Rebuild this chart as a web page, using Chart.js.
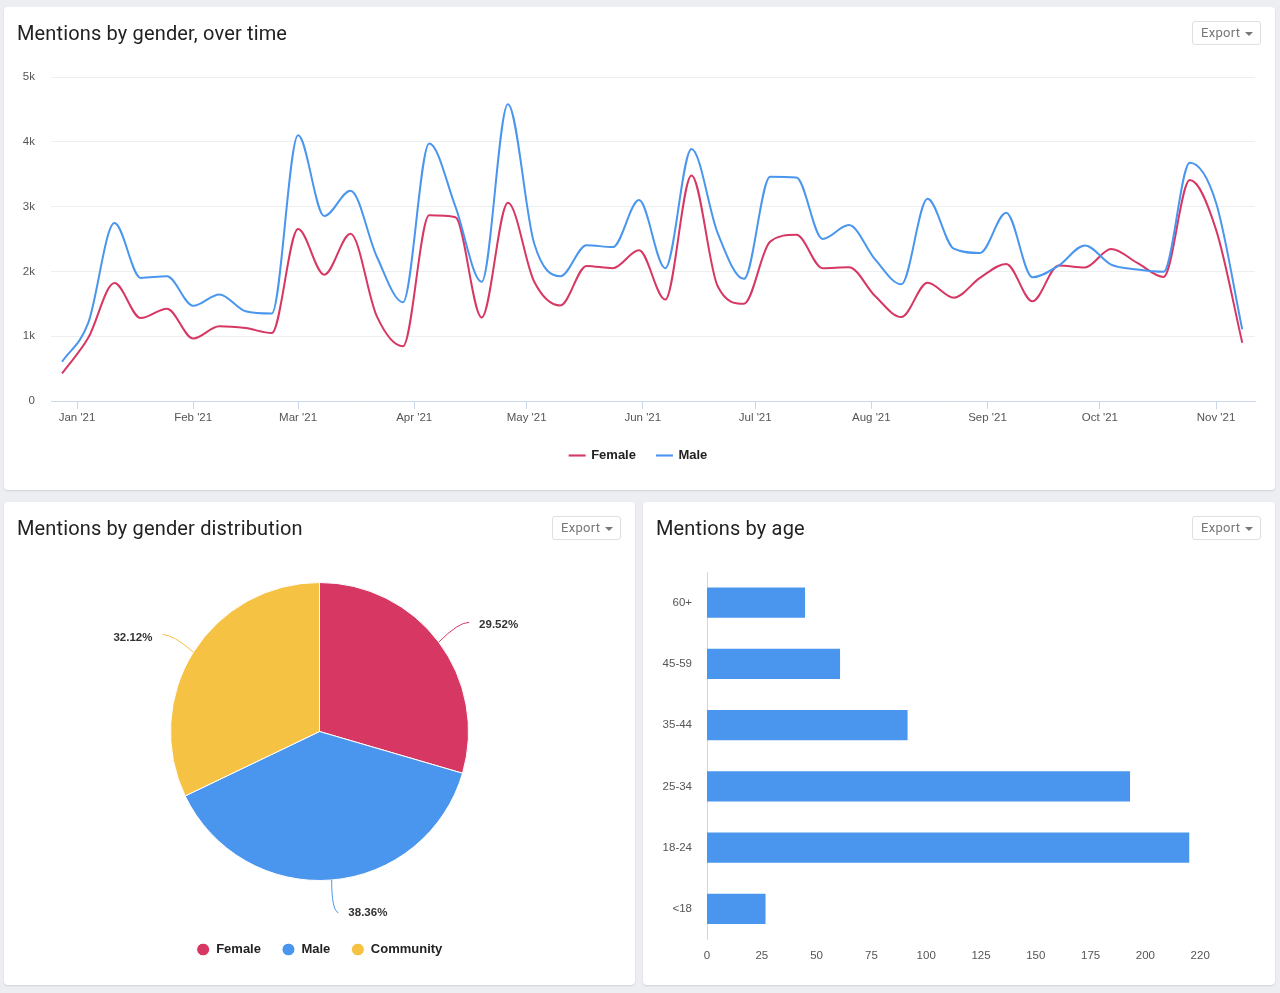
<!DOCTYPE html>
<html>
<head>
  <meta name="viewport" content="width=device-width, initial-scale=1.0">
  <title>Mentions</title>
  <script src="https://cdn.jsdelivr.net/npm/chart.js"></script>
  <style>
    html, body { margin: 0; padding: 0; }
    body { width: 1280px; height: 993px; background: #eceef1; position: relative; overflow: hidden; }
    .card {
      position: absolute;
      background: #fff;
      border-radius: 4px;
      box-shadow: 0 1px 2px rgba(0, 0, 0, 0.12);
    }
    .card canvas { position: absolute; left: 0; top: 0; }
    .card h2 {
      position: absolute;
      left: 13px;
      top: 12px;
      margin: 0;
      font: 400 20px/28px Roboto, sans-serif;
      letter-spacing: 0.15px;
      color: #222;
      z-index: 2;
    }
    .export {
      position: absolute;
      top: 14px;
      right: 14px;
      width: 69px;
      height: 24px;
      box-sizing: border-box;
      border: 1px solid #dcdfe3;
      border-radius: 3px;
      font: 400 13px/22px Roboto, sans-serif;
      letter-spacing: 0.3px;
      color: #777;
      padding-left: 8px;
      z-index: 2;
    }
    .export:after {
      content: "";
      position: absolute;
      right: 7px;
      top: 10px;
      border-left: 4px solid transparent;
      border-right: 4px solid transparent;
      border-top: 4px solid #777;
    }
  </style>
</head>
<body>
  <div class="card" style="left:4px;top:7px;width:1271px;height:483px">
    <h2>Mentions by gender, over time</h2>
    <div class="export">Export</div>
    <canvas id="lineChart" width="1271" height="483" style="width:1271px;height:483px"></canvas>
  </div>
  <div class="card" style="left:4px;top:502px;width:631px;height:483px">
    <h2>Mentions by gender distribution</h2>
    <div class="export">Export</div>
    <canvas id="pieChart" width="631" height="483" style="width:631px;height:483px"></canvas>
  </div>
  <div class="card" style="left:643px;top:502px;width:632px;height:483px">
    <h2>Mentions by age</h2>
    <div class="export">Export</div>
    <canvas id="barChart" width="632" height="483" style="width:632px;height:483px"></canvas>
  </div>

  <script>
    // data
    const weekDays = [-4, 3, 10, 17, 24, 31, 38, 45, 52, 59, 66, 73, 80, 87, 94, 101, 108, 115, 122, 129, 136, 143, 150, 157, 164, 171, 178, 185, 192, 199, 206, 213, 220, 227, 234, 241, 248, 255, 262, 269, 276, 283, 290, 297, 304, 311];
    const femaleValues = [425, 975, 1820, 1280, 1425, 965, 1155, 1125, 1050, 2655, 1950, 2580, 1310, 845, 2865, 2835, 1290, 3060, 1845, 1475, 2085, 2050, 2325, 1565, 3480, 1770, 1500, 2460, 2565, 2050, 2065, 1620, 1295, 1825, 1595, 1900, 2115, 1540, 2090, 2060, 2345, 2130, 1915, 3410, 2645, 900];
    const maleValues = [605, 1205, 2745, 1900, 1925, 1470, 1645, 1385, 1350, 4100, 2855, 3245, 2230, 1525, 3975, 3000, 1840, 4580, 2435, 1925, 2405, 2375, 3100, 2050, 3890, 2590, 1885, 3460, 3450, 2500, 2715, 2185, 1800, 3120, 2350, 2285, 2905, 1910, 2090, 2400, 2105, 2030, 1995, 3675, 3060, 1105];
    const monthDays = [0, 31, 59, 90, 120, 151, 181, 212, 243, 273, 304];
    const monthLabels = ["Jan '21", "Feb '21", "Mar '21", "Apr '21", "May '21", "Jun '21", "Jul '21", "Aug '21", "Sep '21", "Oct '21", "Nov '21"];

    const genderLabels = ['Female', 'Male', 'Community'];
    const genderShares = [29.52, 38.36, 32.12];

    const ageLabels = ['60+', '45-59', '35-44', '25-34', '18-24', '<18'];
    const ageValues = [44.7, 60.7, 91.5, 193, 220, 26.7];
    const ageTickValues = [0, 25, 50, 75, 100, 125, 150, 175, 200, 225];
    const ageTickLabels = ['0', '25', '50', '75', '100', '125', '150', '175', '200', '220'];

    const RED = '#d63763';
    const BLUE = '#4a96ee';
    const YELLOW = '#f6c244';
    const AXIS = '#ccd6eb';
    const TICK_FONT = { family: '"Liberation Sans", sans-serif', size: 11.5 };
    const LEGEND_FONT = { family: '"Liberation Sans", sans-serif', size: 13, weight: 'bold' };

    Chart.defaults.animation = false;
    Chart.defaults.color = '#555';

    // 1. line chart
    new Chart(document.getElementById('lineChart'), {
      type: 'line',
      data: {
        datasets: [
          {
            label: 'Female',
            data: weekDays.map((d, i) => ({ x: d, y: femaleValues[i] })),
            borderColor: RED,
            backgroundColor: RED,
            order: 1
          },
          {
            label: 'Male',
            data: weekDays.map((d, i) => ({ x: d, y: maleValues[i] })),
            borderColor: BLUE,
            backgroundColor: BLUE,
            order: 0
          }
        ]
      },
      options: {
        responsive: false,
        layout: { padding: { top: 70, right: 20, bottom: 18, left: 18 } },
        elements: {
          line: { borderWidth: 2, cubicInterpolationMode: 'monotone' },
          point: { radius: 0 }
        },
        scales: {
          x: {
            type: 'linear',
            min: -6.94,
            max: 314.4,
            afterBuildTicks: (axis) => { axis.ticks = monthDays.map((v) => ({ value: v })); },
            afterFit: (axis) => { axis.height = 27; },
            ticks: {
              autoSkip: false,
              maxRotation: 0,
              padding: 2,
              font: TICK_FONT,
              callback: (v) => monthLabels[monthDays.indexOf(v)]
            },
            grid: { drawOnChartArea: false, tickColor: AXIS, tickLength: 8 },
            border: { color: AXIS }
          },
          y: {
            min: 0,
            max: 5000,
            afterFit: (axis) => { axis.width = 29; },
            ticks: {
              stepSize: 1000,
              padding: 16,
              font: TICK_FONT,
              callback: (v) => (v === 0 ? '0' : v / 1000 + 'k')
            },
            grid: { color: '#eceef0', drawTicks: false },
            border: { display: false }
          }
        },
        plugins: {
          tooltip: { enabled: false },
          legend: {
            position: 'bottom',
            labels: {
              boxWidth: 15,
              boxHeight: 0.1,
              padding: 21,
              font: LEGEND_FONT,
              color: '#222',
              sort: (a, b) => a.datasetIndex - b.datasetIndex
            }
          }
        }
      }
    });

    // 2. pie chart, with the percentage labels on curved leader lines
    const pieLabels = {
      id: 'pieLabels',
      afterDraw(chart) {
        const ctx = chart.ctx;
        chart.getDatasetMeta(0).data.forEach((arc, i) => {
          const mid = (arc.startAngle + arc.endAngle) / 2;
          const cos = Math.cos(mid);
          const sin = Math.sin(mid);
          const right = cos >= 0;
          const sx = arc.x + arc.outerRadius * cos;
          const sy = arc.y + arc.outerRadius * sin;
          const ex = sx + 33 * cos + (right ? 4 : -3);
          const ey = sy + 33 * sin;
          const steep = Math.abs(sin) > 0.9;
          ctx.save();
          ctx.strokeStyle = arc.options.backgroundColor;
          ctx.lineWidth = 1;
          ctx.beginPath();
          ctx.moveTo(sx, sy);
          if (steep) {
            ctx.quadraticCurveTo(sx, ey - 3, ex, ey);
          } else {
            ctx.quadraticCurveTo(sx + (ex - sx) * 0.65, ey, ex, ey);
          }
          ctx.stroke();
          ctx.fillStyle = '#333';
          ctx.font = 'bold 11.5px "Liberation Sans", sans-serif';
          ctx.textBaseline = 'middle';
          ctx.textAlign = right ? 'left' : 'right';
          ctx.fillText(genderShares[i].toFixed(2) + '%', ex + (right ? 10 : -10), ey + (sin > 0 ? 0 : 3));
          ctx.restore();
        });
      }
    };

    new Chart(document.getElementById('pieChart'), {
      type: 'pie',
      data: {
        labels: genderLabels,
        datasets: [{
          data: genderShares,
          backgroundColor: [RED, BLUE, YELLOW],
          borderColor: '#fff',
          borderWidth: 1,
          radius: 149
        }]
      },
      options: {
        responsive: false,
        layout: { padding: { top: 39, bottom: 19 } },
        plugins: {
          tooltip: { enabled: false },
          legend: {
            position: 'bottom',
            labels: { usePointStyle: true, pointStyle: 'circle', boxHeight: 9, pointStyleWidth: 13, padding: 21, font: LEGEND_FONT, color: '#222' }
          }
        }
      },
      plugins: [pieLabels]
    });

    // 3. bars by age
    new Chart(document.getElementById('barChart'), {
      type: 'bar',
      data: {
        labels: ageLabels,
        datasets: [{
          data: ageValues,
          backgroundColor: BLUE,
          categoryPercentage: 1,
          barPercentage: 0.49
        }]
      },
      options: {
        responsive: false,
        indexAxis: 'y',
        layout: { padding: { top: 70, right: 20 } },
        scales: {
          x: {
            min: 0,
            max: 250,
            afterBuildTicks: (axis) => { axis.ticks = ageTickValues.map((v) => ({ value: v })); },
            afterFit: (axis) => { axis.height = 45.5; },
            ticks: {
              autoSkip: false,
              maxRotation: 0,
              padding: 9,
              font: TICK_FONT,
              callback: (v) => ageTickLabels[ageTickValues.indexOf(v)]
            },
            grid: { display: false, drawTicks: false },
            border: { display: false }
          },
          y: {
            afterFit: (axis) => { axis.width = 64; },
            ticks: { padding: 15, font: TICK_FONT },
            grid: { display: false, drawTicks: false },
            border: { color: AXIS }
          }
        },
        plugins: {
          tooltip: { enabled: false },
          legend: { display: false }
        }
      }
    });
  </script>
</body>
</html>
